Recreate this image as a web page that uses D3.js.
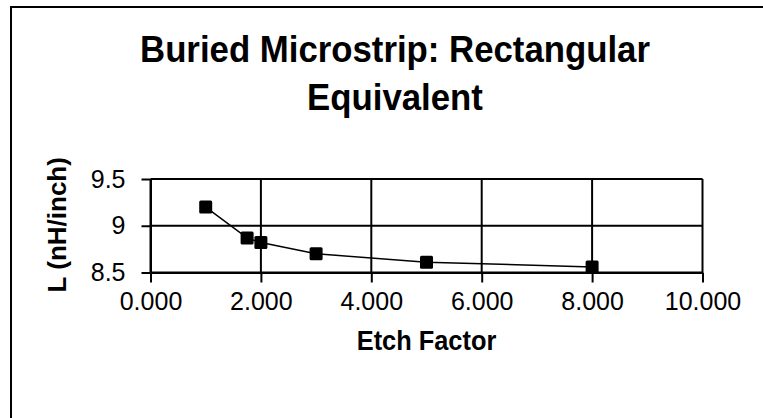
<!DOCTYPE html>
<html>
<head>
<meta charset="utf-8">
<script src="https://cdn.jsdelivr.net/npm/d3@7"></script>
<style>
  html, body { margin: 0; padding: 0; background: #fff; }
  svg { display: block; font-family: "Liberation Sans", Arial, sans-serif; }
</style>
</head>
<body>
<svg id="chart" width="763" height="418"></svg>
<script>
// Etch factor vs. inductance per inch for a buried microstrip
const etchFactor = [1.0, 1.75, 2.0, 3.0, 5.0, 8.0];
const inductance = [9.2, 8.87, 8.82, 8.70, 8.61, 8.56];
const xTicks = [0, 2, 4, 6, 8, 10];
const yTicks = [8.5, 9, 9.5];
const titleLines = ["Buried Microstrip: Rectangular", "Equivalent"];
const xTitle = "Etch Factor";
const yTitle = "L (nH/inch)";

const svg = d3.select("#chart");

// chart frame
svg.append("rect")
  .attr("x", 11).attr("y", 7)
  .attr("width", 800).attr("height", 500)
  .attr("fill", "#fff").attr("stroke", "#000").attr("stroke-width", 2);

const plot = { left: 150.5, right: 702.5, top: 179, bottom: 272.5 };

const x = d3.scaleLinear().domain([0, 10]).range([plot.left, plot.right]);
const y = d3.scaleLinear().domain([8.5, 9.5]).range([plot.bottom, plot.top]);

// gridlines
const grid = svg.append("g").attr("stroke", "#000").attr("stroke-width", 2);
grid.selectAll("line.h").data(yTicks).join("line")
  .attr("x1", plot.left).attr("x2", plot.right)
  .attr("y1", d => y(d)).attr("y2", d => y(d));
grid.selectAll("line.v").data(xTicks).join("line")
  .attr("x1", d => x(d)).attr("x2", d => x(d))
  .attr("y1", plot.top).attr("y2", plot.bottom);

// axes
const yAxis = svg.append("g")
  .attr("transform", `translate(${plot.left},0)`)
  .call(d3.axisLeft(y).tickValues(yTicks).tickFormat(d3.format("")).tickSize(9).tickSizeOuter(0).tickPadding(16));
const xAxis = svg.append("g")
  .attr("transform", `translate(0,${plot.bottom})`)
  .call(d3.axisBottom(x).tickValues(xTicks).tickFormat(d3.format(".3f")).tickSize(10).tickSizeOuter(0).tickPadding(10));

[yAxis, xAxis].forEach(a => {
  a.select(".domain").attr("stroke", "#000").attr("stroke-width", 2);
  a.selectAll(".tick line").attr("stroke", "#000").attr("stroke-width", 2);
  a.selectAll(".tick text").attr("fill", "#000")
    .style("font-family", "'Liberation Sans', Arial, sans-serif").style("font-size", "25px");
});

// series line and markers
const pts = etchFactor.map((v, i) => [v, inductance[i]]);
svg.append("path")
  .datum(pts)
  .attr("fill", "none").attr("stroke", "#000").attr("stroke-width", 1.5)
  .attr("d", d3.line().x(d => x(d[0])).y(d => y(d[1])));
const m = 13;
svg.selectAll("rect.marker").data(pts).join("rect")
  .attr("class", "marker")
  .attr("x", d => x(d[0]) - m / 2).attr("y", d => y(d[1]) - m / 2)
  .attr("width", m).attr("height", m).attr("rx", 1.5)
  .attr("fill", "#000");

// titles (slightly condensed bold face)
svg.selectAll("text.title").data(titleLines).join("text")
  .attr("class", "title")
  .attr("transform", (d, i) => `translate(395,${62 + i * 48}) scale(0.94,1)`)
  .attr("text-anchor", "middle")
  .style("font-size", "37px").style("font-weight", "bold")
  .text(d => d);

svg.append("text")
  .attr("transform", `translate(${(plot.left + plot.right) / 2},350) scale(0.94,1)`)
  .attr("text-anchor", "middle")
  .style("font-size", "27px").style("font-weight", "bold")
  .text(xTitle);

svg.append("text")
  .attr("transform", `translate(66,${(plot.top + plot.bottom) / 2 - 1}) rotate(-90)`)
  .attr("text-anchor", "middle")
  .style("font-size", "26px").style("font-weight", "bold")
  .text(yTitle);
</script>
</body>
</html>
